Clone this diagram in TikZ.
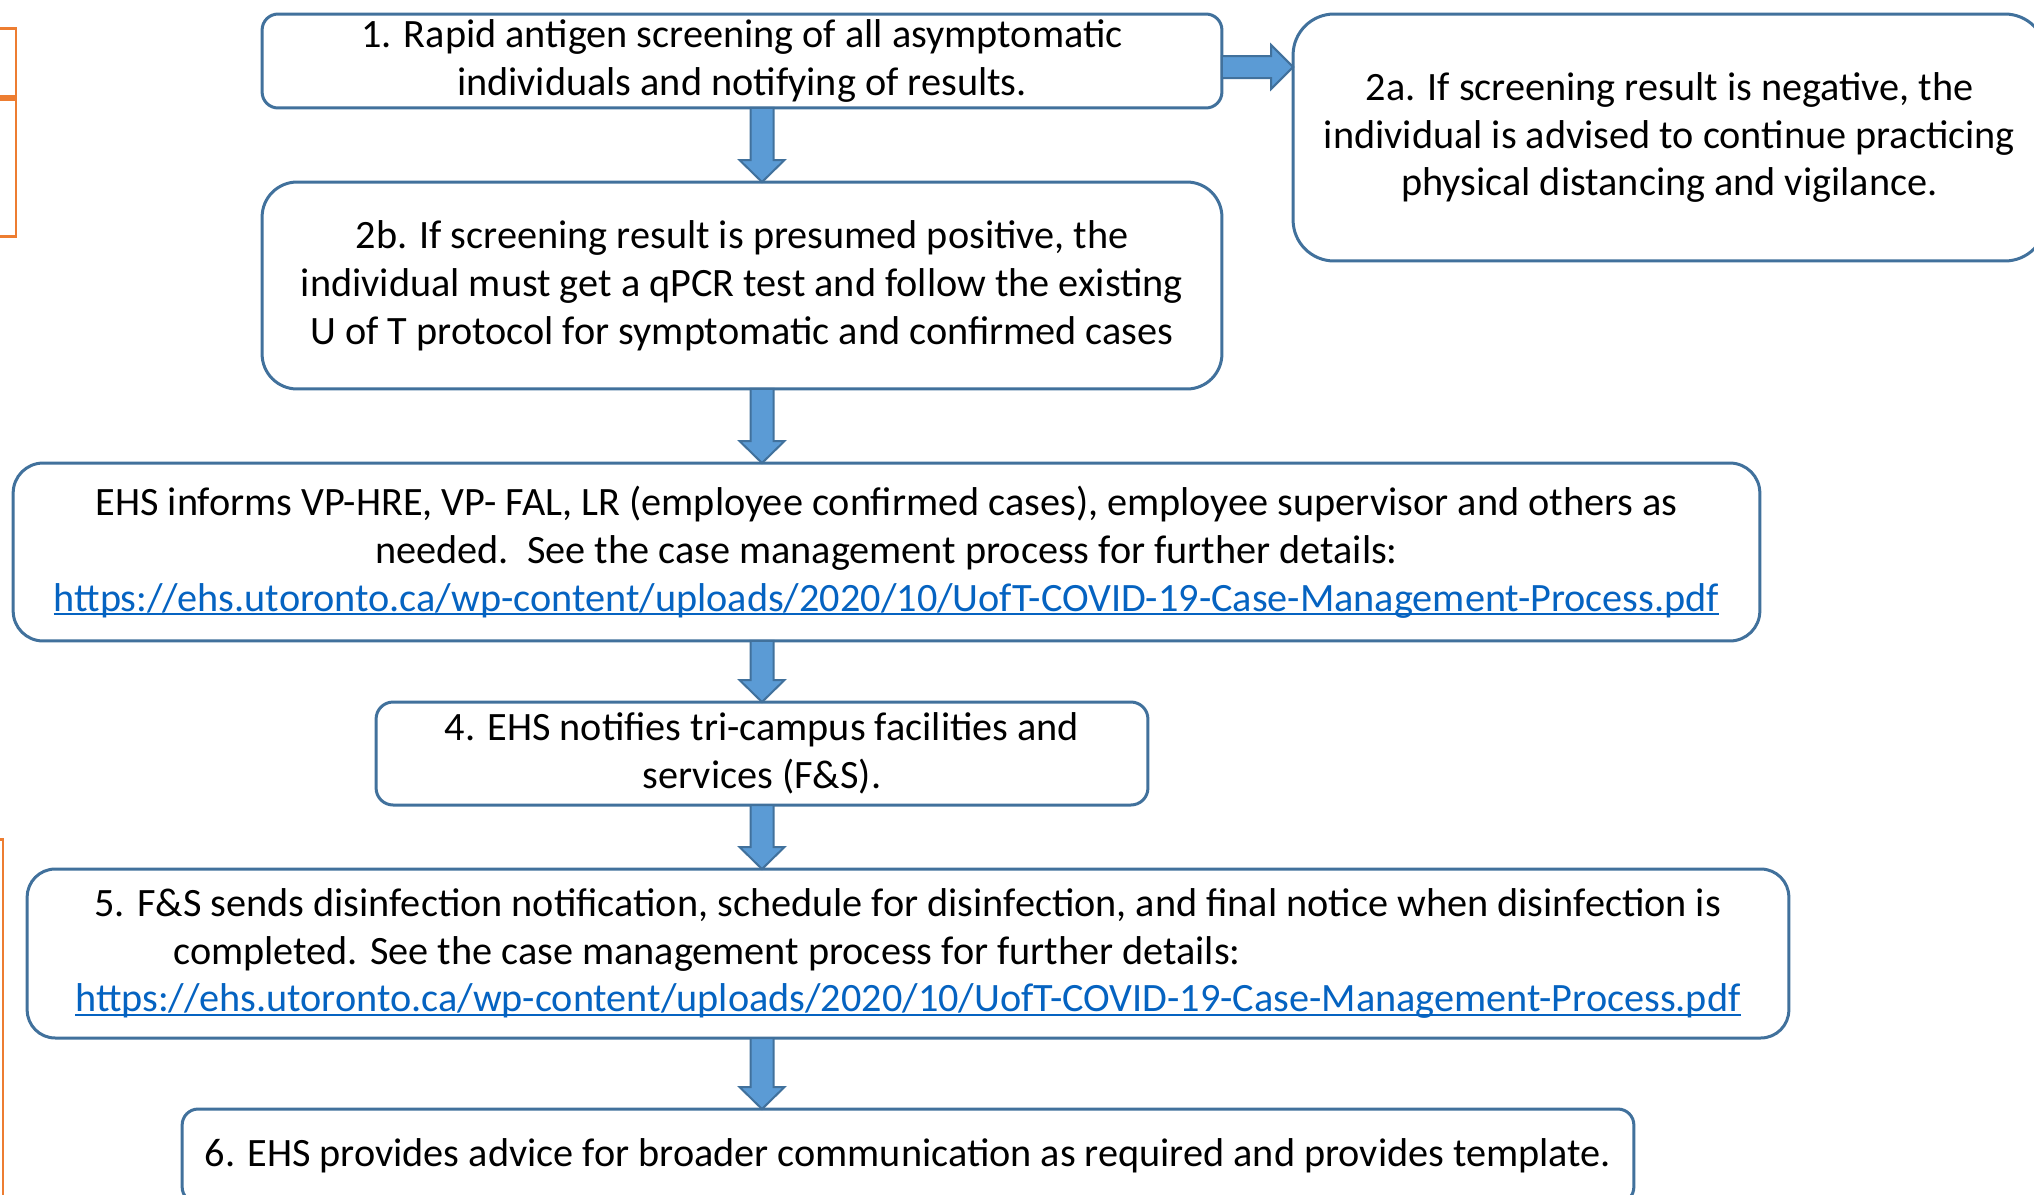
\documentclass[tikz,border=0pt]{standalone}
\usepackage{fontspec}
\setmainfont{Carlito}
\usetikzlibrary{calc}
\definecolor{boxblue}{HTML}{41719C}
\definecolor{arrowblue}{HTML}{5B9BD5}
\definecolor{linkblue}{HTML}{0563C1}
\definecolor{sideorange}{HTML}{ED7D31}
\newsavebox{\linkbox}
\newcommand{\casemgmtlink}{\sbox{\linkbox}{\color{linkblue}https://ehs.utoronto.ca/wp-content/uploads/2020/10/UofT-COVID-19-Case-Management-Process.pdf}%
  \rlap{\color{linkblue}\rule[-0.08cm]{\wd\linkbox}{0.04cm}}\usebox{\linkbox}}
\begin{document}
\begin{tikzpicture}[x=0.02cm, y=-0.02cm,
    box/.style={draw=boxblue, line width=0.06cm, fill=white, inner sep=0pt, outer sep=0pt,
      align=center, font=\fontsize{22.9}{27.3}\selectfont},
    blockarrow/.style={draw=boxblue, line width=0.04cm, fill=arrowblue, line join=miter}]
    \useasboundingbox (0,0) rectangle (2034,1194);
    \clip (0,0) rectangle (2034,1194);
    \draw[sideorange, line width=0.06cm] (-20,28) rectangle (16,96);
    \draw[sideorange, line width=0.06cm] (-20,99) rectangle (16,236);
    \draw[sideorange, line width=0.06cm] (-20,839) rectangle (3,1240);
    \node[box, minimum width=19.2cm, minimum height=1.88cm, rounded corners=0.32cm] (b1) at (742,61)
      {1. Rapid antigen screening of all asymptomatic\\individuals and notifying of results.};
    \node[box, minimum width=15.06cm, minimum height=4.94cm, rounded corners=0.82cm] (b2a) at (1669.5,137.5)
      {2a. If screening result is negative, the\\individual is advised to continue practicing\\physical distancing and vigilance.};
    \node[box, minimum width=19.2cm, minimum height=4.14cm, rounded corners=0.7cm] (b2b) at (742,285.5)
      {2b. If screening result is presumed positive, the\\individual must get a qPCR test and follow the existing\\U of T protocol for symptomatic and confirmed cases};
    \node[box, minimum width=34.94cm, minimum height=3.56cm, rounded corners=0.6cm] (b3) at (886.5,552)
      {EHS informs VP-HRE, VP- FAL, LR (employee confirmed cases), employee supervisor and others as\\needed.\ \ See the case management process for further details:\\\casemgmtlink};
    \node[box, minimum width=15.44cm, minimum height=2.06cm, rounded corners=0.34cm] (b4) at (762,753.5)
      {4. EHS notifies tri-campus facilities and\\services (F\&S).};
    \node[box, minimum width=35.24cm, minimum height=3.38cm, rounded corners=0.56cm] (b5) at (908,953.5)
      {5. F\&S sends disinfection notification, schedule for disinfection, and final notice when disinfection is\\completed. See the case management process for further details:\rule{8.04cm}{0pt}\\\casemgmtlink};
    \node[box, minimum width=29.04cm, minimum height=1.88cm, rounded corners=0.32cm] (b6) at (908,1156)
      {6. EHS provides advice for broader communication as required and provides template.};
    \coordinate (spine) at (762,0);
    \coordinate (side) at (0,67);
    \foreach \a/\b in {b1/b2b, b2b/b3, b3/b4, b4/b5, b5/b6} {
      \path (\a.south -| spine) coordinate (s) (\b.north -| spine) coordinate (t);
      \draw[blockarrow] ($(s)+(-11.5,0)$) -- ($(t)+(-11.5,-22)$) -- ($(t)+(-22.5,-22)$) -- (t)
        -- ($(t)+(22.5,-22)$) -- ($(t)+(11.5,-22)$) -- ($(s)+(11.5,0)$) -- cycle;
    }
    \path (b1.east |- side) coordinate (s) (b2a.west |- side) coordinate (t);
    \draw[blockarrow] ($(s)+(0,-11)$) -- ($(t)+(-22,-11)$) -- ($(t)+(-22,-22)$) -- (t)
      -- ($(t)+(-22,22)$) -- ($(t)+(-22,11)$) -- ($(s)+(0,11)$) -- cycle;
\end{tikzpicture}
\end{document}
